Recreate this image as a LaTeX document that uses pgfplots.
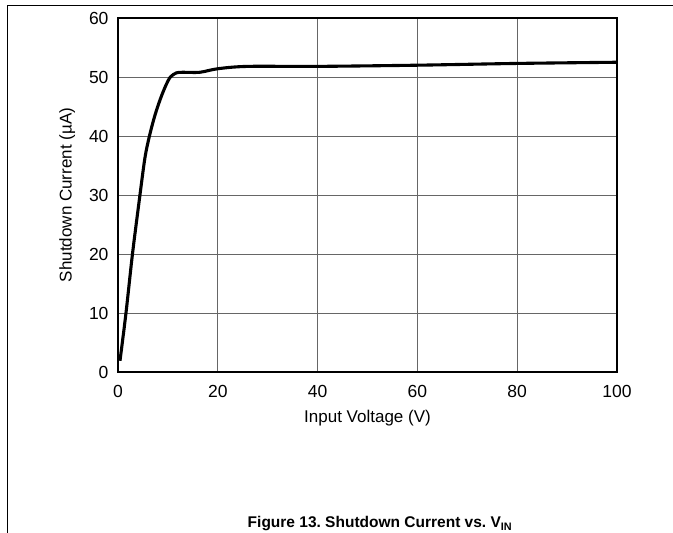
\documentclass[border=0pt]{standalone}
\usepackage{pgfplots}
\pgfplotsset{compat=1.18}
\usepackage{fontspec}
\setmainfont{Liberation Sans}
\begin{document}
\frenchspacing
\begin{tikzpicture}[x=1pt,y=1pt]
\useasboundingbox (-118,-161) rectangle (555,372);
\draw[line width=1pt] (-110.5,-161) -- (-110.5,366.5) -- (555,366.5);
\begin{axis}[
  at={(0,0)}, anchor=south west,
  scale only axis, width=499pt, height=354pt,
  xmin=0, xmax=100, ymin=0, ymax=60,
  xtick={0,20,...,100}, ytick={0,10,...,60},
  grid=major,
  major grid style={gray!80!black, line width=0.7pt},
  axis line style={line width=2.2pt},
  major tick length=0pt,
  tick label style={font=\fontsize{17.5}{20}\selectfont},
  /pgf/number format/assume math mode=true,
  xlabel={Input Voltage (V)},
  ylabel={Shutdown Current (\textmu A)},
  label style={font=\fontsize{17}{20}\selectfont},
  xlabel style={yshift=-5pt},
  ylabel style={yshift=7pt},
  xticklabel style={yshift=-10pt},
  yticklabel style={xshift=-6pt},
]
\addplot[black, line width=3.1pt, smooth, tension=0.5] coordinates {
(0.4,1.9) (1.6,10) (2.9,20) (4.4,30) (5.4,36.3) (6.3,40) (7.4,43.5) (8.5,46.3) (9.6,48.6) (10.5,50.0) (11.7,50.7) (13,50.8) (16.4,50.8) (20,51.4) (26,51.8) (40,51.8) (60,52.0) (80,52.3) (100,52.5)
};
\end{axis}
\node[font=\bfseries\fontsize{15.5}{18}\selectfont] at (262,-152) {Figure 13. Shutdown Current vs. V\textsubscript{IN}};
\end{tikzpicture}
\end{document}
